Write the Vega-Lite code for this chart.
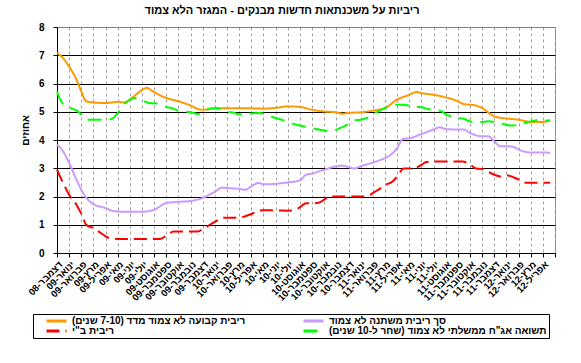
{
  "$schema": "https://vega.github.io/schema/vega-lite/v6.json",
  "width": 498,
  "height": 226,
  "autosize": {"type": "none"},
  "padding": {"left": 57, "top": 27, "right": 26, "bottom": 110},
  "background": "white",
  "title": {
    "text": "ריביות על משכנתאות חדשות מבנקים - המגזר הלא צמוד",
    "font": "Liberation Sans", "fontSize": 11, "fontWeight": "bold", "color": "black",
    "anchor": "middle", "dx": -24, "offset": 6
  },
  "config": {
    "view": {"stroke": "#808080", "strokeWidth": 1},
    "font": "Liberation Sans",
    "legend": {"strokeColor": "#000000", "fillColor": "#ffffff", "strokeWidth": 1}
  },
  "data": {
    "values": [
      {"series": "O", "t": 0, "rate": 7.08}, {"series": "O", "t": 0.5, "rate": 6.9}, {"series": "O", "t": 1, "rate": 6.6}, {"series": "O", "t": 1.6, "rate": 6.14}, {"series": "O", "t": 2, "rate": 5.72}, {"series": "O", "t": 2.4, "rate": 5.37}, {"series": "O", "t": 3, "rate": 5.33}, {"series": "O", "t": 4, "rate": 5.31}, {"series": "O", "t": 5, "rate": 5.35}, {"series": "O", "t": 5.5, "rate": 5.33}, {"series": "O", "t": 6, "rate": 5.43}, {"series": "O", "t": 6.6, "rate": 5.64}, {"series": "O", "t": 7.4, "rate": 5.84}, {"series": "O", "t": 7.9, "rate": 5.72}, {"series": "O", "t": 8.8, "rate": 5.52}, {"series": "O", "t": 10, "rate": 5.37}, {"series": "O", "t": 11, "rate": 5.22}, {"series": "O", "t": 11.6, "rate": 5.1}, {"series": "O", "t": 12, "rate": 5.07}, {"series": "O", "t": 13, "rate": 5.12}, {"series": "O", "t": 14, "rate": 5.12}, {"series": "O", "t": 15, "rate": 5.12}, {"series": "O", "t": 16, "rate": 5.12}, {"series": "O", "t": 17, "rate": 5.11}, {"series": "O", "t": 18, "rate": 5.14}, {"series": "O", "t": 19, "rate": 5.19}, {"series": "O", "t": 20, "rate": 5.17}, {"series": "O", "t": 21, "rate": 5.07}, {"series": "O", "t": 22, "rate": 5.01}, {"series": "O", "t": 23, "rate": 4.98}, {"series": "O", "t": 23.5, "rate": 4.93}, {"series": "O", "t": 24, "rate": 4.96}, {"series": "O", "t": 25, "rate": 4.98}, {"series": "O", "t": 26, "rate": 5.04}, {"series": "O", "t": 27, "rate": 5.13}, {"series": "O", "t": 28, "rate": 5.43}, {"series": "O", "t": 29, "rate": 5.6}, {"series": "O", "t": 29.6, "rate": 5.7}, {"series": "O", "t": 30, "rate": 5.66}, {"series": "O", "t": 31, "rate": 5.6}, {"series": "O", "t": 32, "rate": 5.51}, {"series": "O", "t": 33, "rate": 5.37}, {"series": "O", "t": 33.5, "rate": 5.27}, {"series": "O", "t": 34, "rate": 5.25}, {"series": "O", "t": 34.5, "rate": 5.22}, {"series": "O", "t": 35, "rate": 5.13}, {"series": "O", "t": 36, "rate": 4.84}, {"series": "O", "t": 37, "rate": 4.76}, {"series": "O", "t": 38, "rate": 4.72}, {"series": "O", "t": 39, "rate": 4.64}, {"series": "O", "t": 40, "rate": 4.64}, {"series": "O", "t": 40.6, "rate": 4.7},
      {"series": "P", "t": 0, "rate": 3.83}, {"series": "P", "t": 0.5, "rate": 3.6}, {"series": "P", "t": 1, "rate": 3.19}, {"series": "P", "t": 1.6, "rate": 2.6}, {"series": "P", "t": 2, "rate": 2.24}, {"series": "P", "t": 2.6, "rate": 1.86}, {"series": "P", "t": 3, "rate": 1.73}, {"series": "P", "t": 4, "rate": 1.59}, {"series": "P", "t": 4.5, "rate": 1.5}, {"series": "P", "t": 5, "rate": 1.47}, {"series": "P", "t": 6, "rate": 1.46}, {"series": "P", "t": 7, "rate": 1.46}, {"series": "P", "t": 8, "rate": 1.53}, {"series": "P", "t": 9, "rate": 1.77}, {"series": "P", "t": 10, "rate": 1.81}, {"series": "P", "t": 11, "rate": 1.84}, {"series": "P", "t": 12, "rate": 1.95}, {"series": "P", "t": 13, "rate": 2.17}, {"series": "P", "t": 13.6, "rate": 2.31}, {"series": "P", "t": 14, "rate": 2.3}, {"series": "P", "t": 15, "rate": 2.27}, {"series": "P", "t": 15.5, "rate": 2.24}, {"series": "P", "t": 16, "rate": 2.36}, {"series": "P", "t": 16.6, "rate": 2.48}, {"series": "P", "t": 17, "rate": 2.43}, {"series": "P", "t": 18, "rate": 2.45}, {"series": "P", "t": 19, "rate": 2.5}, {"series": "P", "t": 20, "rate": 2.57}, {"series": "P", "t": 20.5, "rate": 2.77}, {"series": "P", "t": 21, "rate": 2.81}, {"series": "P", "t": 22, "rate": 2.95}, {"series": "P", "t": 23, "rate": 3.07}, {"series": "P", "t": 23.5, "rate": 3.09}, {"series": "P", "t": 24, "rate": 3.04}, {"series": "P", "t": 24.5, "rate": 2.99}, {"series": "P", "t": 25, "rate": 3.07}, {"series": "P", "t": 26, "rate": 3.2}, {"series": "P", "t": 27, "rate": 3.36}, {"series": "P", "t": 27.5, "rate": 3.48}, {"series": "P", "t": 28, "rate": 3.72}, {"series": "P", "t": 28.5, "rate": 4.04}, {"series": "P", "t": 29, "rate": 4.06}, {"series": "P", "t": 30, "rate": 4.21}, {"series": "P", "t": 31, "rate": 4.37}, {"series": "P", "t": 31.5, "rate": 4.45}, {"series": "P", "t": 32, "rate": 4.39}, {"series": "P", "t": 33, "rate": 4.37}, {"series": "P", "t": 33.5, "rate": 4.37}, {"series": "P", "t": 34, "rate": 4.25}, {"series": "P", "t": 35, "rate": 4.13}, {"series": "P", "t": 35.5, "rate": 4.13}, {"series": "P", "t": 36, "rate": 3.95}, {"series": "P", "t": 36.5, "rate": 3.78}, {"series": "P", "t": 37, "rate": 3.78}, {"series": "P", "t": 37.6, "rate": 3.75}, {"series": "P", "t": 38, "rate": 3.66}, {"series": "P", "t": 39, "rate": 3.56}, {"series": "P", "t": 40, "rate": 3.56}, {"series": "P", "t": 40.6, "rate": 3.54},
      {"series": "R", "t": 0, "rate": 2.95}, {"series": "R", "t": 0.5, "rate": 2.48}, {"series": "R", "t": 1, "rate": 2.06}, {"series": "R", "t": 1.6, "rate": 1.71}, {"series": "R", "t": 2.1, "rate": 1.3}, {"series": "R", "t": 2.4, "rate": 1.0}, {"series": "R", "t": 3, "rate": 0.88}, {"series": "R", "t": 3.5, "rate": 0.74}, {"series": "R", "t": 4, "rate": 0.59}, {"series": "R", "t": 4.3, "rate": 0.53}, {"series": "R", "t": 5, "rate": 0.5}, {"series": "R", "t": 6, "rate": 0.5}, {"series": "R", "t": 7, "rate": 0.5}, {"series": "R", "t": 8, "rate": 0.5}, {"series": "R", "t": 8.5, "rate": 0.5}, {"series": "R", "t": 9, "rate": 0.61}, {"series": "R", "t": 9.6, "rate": 0.76}, {"series": "R", "t": 10, "rate": 0.76}, {"series": "R", "t": 11, "rate": 0.76}, {"series": "R", "t": 11.6, "rate": 0.76}, {"series": "R", "t": 12, "rate": 0.85}, {"series": "R", "t": 13, "rate": 1.1}, {"series": "R", "t": 13.6, "rate": 1.24}, {"series": "R", "t": 14, "rate": 1.25}, {"series": "R", "t": 15, "rate": 1.25}, {"series": "R", "t": 15.5, "rate": 1.3}, {"series": "R", "t": 16, "rate": 1.38}, {"series": "R", "t": 16.6, "rate": 1.5}, {"series": "R", "t": 17, "rate": 1.51}, {"series": "R", "t": 18, "rate": 1.51}, {"series": "R", "t": 19, "rate": 1.5}, {"series": "R", "t": 19.5, "rate": 1.51}, {"series": "R", "t": 20, "rate": 1.62}, {"series": "R", "t": 20.5, "rate": 1.76}, {"series": "R", "t": 21, "rate": 1.76}, {"series": "R", "t": 21.6, "rate": 1.79}, {"series": "R", "t": 22, "rate": 1.89}, {"series": "R", "t": 22.5, "rate": 2.0}, {"series": "R", "t": 23, "rate": 2.0}, {"series": "R", "t": 24, "rate": 2.0}, {"series": "R", "t": 25, "rate": 2.0}, {"series": "R", "t": 25.8, "rate": 2.06}, {"series": "R", "t": 26, "rate": 2.12}, {"series": "R", "t": 26.6, "rate": 2.28}, {"series": "R", "t": 27, "rate": 2.4}, {"series": "R", "t": 27.7, "rate": 2.56}, {"series": "R", "t": 28.2, "rate": 2.83}, {"series": "R", "t": 28.5, "rate": 2.99}, {"series": "R", "t": 29, "rate": 2.99}, {"series": "R", "t": 29.5, "rate": 3.01}, {"series": "R", "t": 30, "rate": 3.12}, {"series": "R", "t": 30.4, "rate": 3.22}, {"series": "R", "t": 31, "rate": 3.24}, {"series": "R", "t": 32, "rate": 3.24}, {"series": "R", "t": 33, "rate": 3.24}, {"series": "R", "t": 33.4, "rate": 3.24}, {"series": "R", "t": 34, "rate": 3.13}, {"series": "R", "t": 34.5, "rate": 2.99}, {"series": "R", "t": 35, "rate": 2.97}, {"series": "R", "t": 36, "rate": 2.77}, {"series": "R", "t": 36.5, "rate": 2.71}, {"series": "R", "t": 37, "rate": 2.75}, {"series": "R", "t": 38, "rate": 2.6}, {"series": "R", "t": 38.5, "rate": 2.49}, {"series": "R", "t": 39, "rate": 2.49}, {"series": "R", "t": 40, "rate": 2.49}, {"series": "R", "t": 40.6, "rate": 2.49},
      {"series": "G", "t": 0, "rate": 5.72}, {"series": "G", "t": 0.2, "rate": 5.49}, {"series": "G", "t": 0.55, "rate": 5.25}, {"series": "G", "t": 1, "rate": 5.15}, {"series": "G", "t": 1.3, "rate": 5.1}, {"series": "G", "t": 1.6, "rate": 5.05}, {"series": "G", "t": 2, "rate": 4.9}, {"series": "G", "t": 2.4, "rate": 4.72}, {"series": "G", "t": 3, "rate": 4.72}, {"series": "G", "t": 4, "rate": 4.72}, {"series": "G", "t": 4.5, "rate": 4.74}, {"series": "G", "t": 4.9, "rate": 4.9}, {"series": "G", "t": 5.5, "rate": 5.25}, {"series": "G", "t": 6, "rate": 5.43}, {"series": "G", "t": 6.4, "rate": 5.49}, {"series": "G", "t": 7, "rate": 5.4}, {"series": "G", "t": 7.6, "rate": 5.31}, {"series": "G", "t": 8, "rate": 5.3}, {"series": "G", "t": 8.5, "rate": 5.27}, {"series": "G", "t": 9, "rate": 5.17}, {"series": "G", "t": 9.4, "rate": 5.13}, {"series": "G", "t": 10, "rate": 5.04}, {"series": "G", "t": 11, "rate": 4.98}, {"series": "G", "t": 11.6, "rate": 4.92}, {"series": "G", "t": 12, "rate": 4.98}, {"series": "G", "t": 12.3, "rate": 5.07}, {"series": "G", "t": 13, "rate": 5.12}, {"series": "G", "t": 13.7, "rate": 5.07}, {"series": "G", "t": 14, "rate": 5.01}, {"series": "G", "t": 14.6, "rate": 4.96}, {"series": "G", "t": 15, "rate": 4.9}, {"series": "G", "t": 15.6, "rate": 4.92}, {"series": "G", "t": 16, "rate": 4.94}, {"series": "G", "t": 16.7, "rate": 4.96}, {"series": "G", "t": 17.5, "rate": 4.84}, {"series": "G", "t": 18, "rate": 4.78}, {"series": "G", "t": 18.6, "rate": 4.7}, {"series": "G", "t": 19.4, "rate": 4.58}, {"series": "G", "t": 20, "rate": 4.51}, {"series": "G", "t": 20.5, "rate": 4.46}, {"series": "G", "t": 21, "rate": 4.42}, {"series": "G", "t": 22, "rate": 4.34}, {"series": "G", "t": 22.5, "rate": 4.31}, {"series": "G", "t": 23.3, "rate": 4.42}, {"series": "G", "t": 24, "rate": 4.57}, {"series": "G", "t": 24.5, "rate": 4.7}, {"series": "G", "t": 25, "rate": 4.72}, {"series": "G", "t": 25.8, "rate": 4.84}, {"series": "G", "t": 26, "rate": 4.9}, {"series": "G", "t": 27, "rate": 5.13}, {"series": "G", "t": 27.8, "rate": 5.25}, {"series": "G", "t": 28.5, "rate": 5.25}, {"series": "G", "t": 29, "rate": 5.22}, {"series": "G", "t": 29.6, "rate": 5.17}, {"series": "G", "t": 30, "rate": 5.16}, {"series": "G", "t": 30.5, "rate": 5.1}, {"series": "G", "t": 31, "rate": 5.07}, {"series": "G", "t": 31.7, "rate": 5.01}, {"series": "G", "t": 32, "rate": 4.9}, {"series": "G", "t": 32.5, "rate": 4.84}, {"series": "G", "t": 33, "rate": 4.78}, {"series": "G", "t": 33.4, "rate": 4.76}, {"series": "G", "t": 34, "rate": 4.66}, {"series": "G", "t": 34.5, "rate": 4.63}, {"series": "G", "t": 35, "rate": 4.64}, {"series": "G", "t": 35.5, "rate": 4.66}, {"series": "G", "t": 36, "rate": 4.64}, {"series": "G", "t": 36.5, "rate": 4.6}, {"series": "G", "t": 37, "rate": 4.54}, {"series": "G", "t": 37.4, "rate": 4.51}, {"series": "G", "t": 38, "rate": 4.54}, {"series": "G", "t": 38.5, "rate": 4.6}, {"series": "G", "t": 39, "rate": 4.66}, {"series": "G", "t": 39.5, "rate": 4.7}, {"series": "G", "t": 40, "rate": 4.68}, {"series": "G", "t": 40.6, "rate": 4.7}
    ]
  },
  "mark": {"type": "line", "strokeWidth": 2, "interpolate": "monotone"},
  "encoding": {
    "x": {
      "field": "t", "type": "quantitative",
      "scale": {"domain": [0, 41], "nice": false, "zero": false},
      "axis": {
        "title": null,
        "values": [0,1,2,3,4,5,6,7,8,9,10,11,12,13,14,15,16,17,18,19,20,21,22,23,24,25,26,27,28,29,30,31,32,33,34,35,36,37,38,39,40,41],
        "labelExpr": "['דצמבר-08','ינואר-09','פברואר-09','מרץ-09','אפריל-09','מאי-09','יוני-09','יולי-09','אוגוסט-09','ספטמבר-09','אוקטובר-09','נובמבר-09','דצמבר-09','ינואר-10','פברואר-10','מרץ-10','אפריל-10','מאי-10','יוני-10','יולי-10','אוגוסט-10','ספטמבר-10','אוקטובר-10','נובמבר-10','דצמבר-10','ינואר-11','פברואר-11','מרץ-11','אפריל-11','מאי-11','יוני-11','יולי-11','אוגוסט-11','ספטמבר-11','אוקטובר-11','נובמבר-11','דצמבר-11','ינואר-12','פברואר-12','מרץ-12','אפריל-12'][datum.value] || ''",
        "labelAngle": -45, "labelAlign": "right", "labelBaseline": "top",
        "labelFont": "Liberation Sans", "labelFontSize": 9.5, "labelFontWeight": "bold", "labelColor": "black",
        "labelPadding": 2, "labelOverlap": false, "labelBound": false, "labelFlush": false,
        "grid": true, "gridColor": "#A0A0A0", "gridDash": [3, 3], "gridWidth": 1,
        "tickColor": "black", "tickSize": 4, "domainColor": "black", "domainWidth": 1
      }
    },
    "y": {
      "field": "rate", "type": "quantitative",
      "scale": {"domain": [0, 8], "nice": false},
      "axis": {
        "values": [0,1,2,3,4,5,6,7,8],
        "title": "אחוזים",
        "titleFont": "Liberation Sans", "titleFontSize": 10, "titleFontWeight": "bold", "titleColor": "black",
        "titleX": -32, "titleY": 103, "titleAlign": "center", "titleBaseline": "middle", "titleAngle": -90,
        "labelFont": "Liberation Sans", "labelFontSize": 10, "labelFontWeight": "bold", "labelColor": "black",
        "labelPadding": 9, "labelFlush": false,
        "grid": true, "gridColor": {"condition": {"test": "datum.value === 8", "value": "#808080"}, "value": "black"}, "gridWidth": 1,
        "tickColor": "black", "tickSize": 4, "domainColor": "black", "domainWidth": 1
      }
    },
    "color": {
      "field": "series", "type": "nominal",
      "scale": {"domain": ["O", "R", "P", "G"], "range": ["#FF9900", "#FF0000", "#CC99FF", "#00FF00"]},
      "legend": {
        "orient": "none", "legendX": -24, "legendY": 287, "columns": 2, "title": null,
        "labelExpr": "'\u202b' + ({'O': 'ריבית קבועה לא צמוד מדד (7-10 שנים)', 'P': 'סך ריבית משתנה לא צמוד', 'R': 'ריבית ב\"י', 'G': 'תשואה אג\"ח ממשלתי לא צמוד (שחר ל-10 שנים)'})[datum.value] + '\u202c'",
        "symbolType": "M-2,0H2", "symbolStrokeWidth": 3, "symbolSize": 100, "clipHeight": 10,
        "labelFont": "Liberation Sans", "labelFontSize": 10, "labelFontWeight": "bold", "labelColor": "black", "labelLimit": 400,
        "strokeColor": "#000000", "fillColor": "#ffffff",
        "padding": 2, "symbolOffset": 15, "labelOffset": 9, "columnPadding": 46, "rowPadding": 0
      }
    },
    "strokeDash": {
      "field": "series", "type": "nominal",
      "scale": {"domain": ["O", "R", "P", "G"], "range": [[1, 0], [13, 6], [1, 0], [14, 8]]}
    }
  }
}
